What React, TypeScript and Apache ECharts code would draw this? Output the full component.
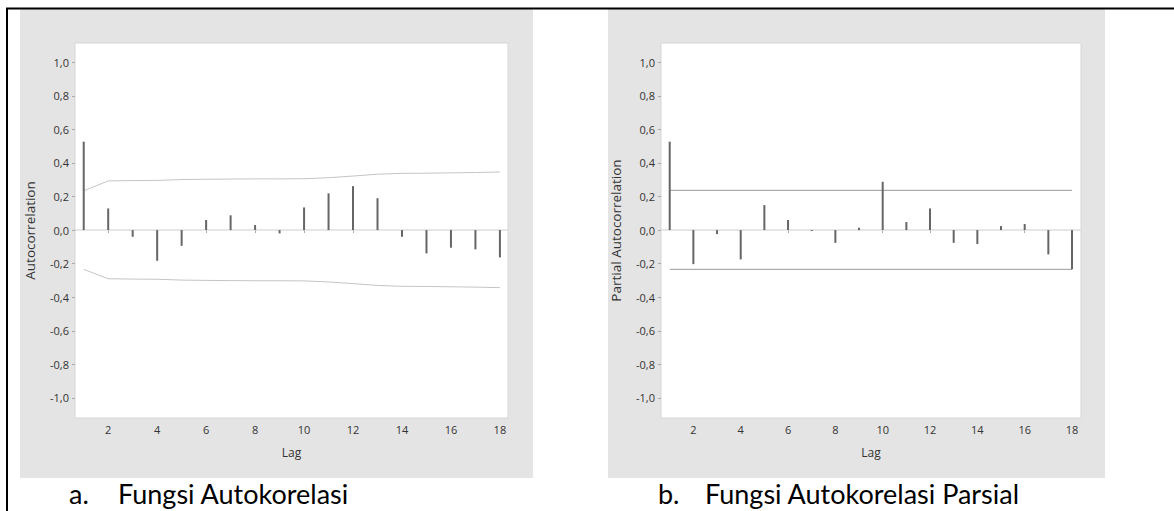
import React, { useEffect, useRef } from "react";
import * as echarts from "echarts";

const lags = [1, 2, 3, 4, 5, 6, 7, 8, 9, 10, 11, 12, 13, 14, 15, 16, 17, 18];
const acfValues = [0.527, 0.129, -0.04, -0.183, -0.094, 0.06, 0.088, 0.03, -0.02, 0.135, 0.219, 0.262, 0.19, -0.04, -0.139, -0.105, -0.115, -0.163];
const acfUpper = [0.234, 0.293, 0.295, 0.296, 0.301, 0.303, 0.304, 0.305, 0.305, 0.306, 0.312, 0.322, 0.333, 0.338, 0.339, 0.341, 0.343, 0.346];
const acfLower = [-0.234, -0.29, -0.292, -0.293, -0.298, -0.3, -0.301, -0.302, -0.302, -0.303, -0.309, -0.319, -0.33, -0.335, -0.336, -0.338, -0.34, -0.343];
const pacfValues = [0.527, -0.203, -0.024, -0.175, 0.149, 0.06, -0.006, -0.076, 0.014, 0.288, 0.048, 0.129, -0.076, -0.083, 0.024, 0.036, -0.145, -0.234];
const pacfLimitLags = [1, 18];
const pacfUpper = [0.237, 0.237];
const pacfLower = [-0.234, -0.234];
const yTicks = [-1, -0.8, -0.6, -0.4, -0.2, 0, 0.2, 0.4, 0.6, 0.8, 1];
const xTicks = [2, 4, 6, 8, 10, 12, 14, 16, 18];
const yNames = ["Autocorrelation", "Partial Autocorrelation"];
const xName = "Lag";
const captions = [["a.", "Fungsi Autokorelasi"], ["b.", "Fungsi Autokorelasi Parsial"]];

const tickFont = "'Liberation Sans Narrow', 'Open Sans', sans-serif";
const captionFont = "27px Lato, sans-serif";

export default function App() {
  const ref = useRef<HTMLDivElement>(null);
  useEffect(() => {
    if (!ref.current) return;
    const chart = echarts.init(ref.current, null, { renderer: "svg" });
    const grids = [
      { left: 75, top: 43, width: 433, height: 375 },
      { left: 661, top: 43, width: 420, height: 375 },
    ];
    const xRanges = [
      [0.644, 18.33],
      [0.632, 18.38],
    ];
    const stem = (vals: number[], gi: number) => ({
      type: "bar",
      xAxisIndex: gi,
      yAxisIndex: gi,
      barWidth: 2,
      z: 3,
      itemStyle: { color: "#666666" },
      data: lags.map((l, i) => [l, vals[i]]),
      markLine: {
        silent: true,
        symbol: "none",
        label: { show: false },
        lineStyle: { color: "#dedede", type: "solid", width: 1.5 },
        data: [{ yAxis: 0 }],
        z: 1,
      },
    });
    const limit = (xs: number[], vals: number[], gi: number, color: string) => ({
      type: "line",
      xAxisIndex: gi,
      yAxisIndex: gi,
      symbol: "none",
      z: 2,
      lineStyle: { color, width: 1 },
      data: xs.map((l, i) => [l, vals[i]]),
    });
    chart.setOption({
      animation: false,
      grid: grids.map((g) => ({
        ...g,
        show: true,
        backgroundColor: "#ffffff",
        borderColor: "#d6d6d6",
        borderWidth: 1,
      })),
      xAxis: [0, 1].map((gi) => ({
        type: "value",
        gridIndex: gi,
        min: xRanges[gi][0],
        max: xRanges[gi][1],
        name: xName,
        nameLocation: "middle",
        nameGap: 28,
        nameTextStyle: { color: "#333", fontSize: 12, fontFamily: tickFont },
        axisLine: { show: false },
        splitLine: { show: false },
        axisTick: { show: true, customValues: xTicks, length: 3, lineStyle: { color: "#aaa" } },
        axisLabel: {
          customValues: xTicks,
          margin: 6,
          color: "#333",
          fontSize: 11,
          fontFamily: tickFont,
        },
      })),
      yAxis: [0, 1].map((gi) => ({
        type: "value",
        gridIndex: gi,
        min: -1.12,
        max: 1.115,
        name: yNames[gi],
        nameLocation: "middle",
        nameGap: 38,
        nameRotate: 90,
        nameTextStyle: { color: "#333", fontSize: 13.5, fontFamily: "'Open Sans', sans-serif" },
        axisLine: { show: false },
        splitLine: { show: false },
        axisTick: { show: true, customValues: yTicks, length: 3, lineStyle: { color: "#aaa" } },
        axisLabel: {
          customValues: yTicks,
          margin: 6,
          color: "#333",
          fontSize: 11,
          fontFamily: tickFont,
          formatter: (v: number) => v.toFixed(1).replace(".", ","),
        },
      })),
      graphic: [
        { type: "rect", z: -10, shape: { x: 20, y: 9, width: 513, height: 469 }, style: { fill: "#e4e4e4" } },
        { type: "rect", z: -10, shape: { x: 608, y: 9, width: 497, height: 469 }, style: { fill: "#e4e4e4" } },
        {
          type: "polyline",
          z: 50,
          shape: { points: [[7, 511], [7, 8.5], [1174, 8.5]] },
          style: { stroke: "#000", lineWidth: 2, fill: null },
        },
        { type: "text", z: 50, x: 69, y: 493, style: { text: captions[0][0], fill: "#000", font: captionFont, verticalAlign: "middle" } },
        { type: "text", z: 50, x: 118, y: 493, style: { text: captions[0][1], fill: "#000", font: captionFont, verticalAlign: "middle" } },
        { type: "text", z: 50, x: 658, y: 493, style: { text: captions[1][0], fill: "#000", font: captionFont, verticalAlign: "middle" } },
        { type: "text", z: 50, x: 705, y: 493, style: { text: captions[1][1], fill: "#000", font: captionFont, verticalAlign: "middle" } },
      ],
      series: [
        stem(acfValues, 0),
        limit(lags, acfUpper, 0, "#c4c4c4"),
        limit(lags, acfLower, 0, "#c4c4c4"),
        stem(pacfValues, 1),
        limit(pacfLimitLags, pacfUpper, 1, "#9a9a9a"),
        limit(pacfLimitLags, pacfLower, 1, "#9a9a9a"),
      ],
    });
    return () => chart.dispose();
  }, []);
  return (
    <div
      ref={ref}
      style={{ position: "fixed", left: 0, top: 0, width: 1174, height: 511, background: "#fff" }}
    />
  );
}
